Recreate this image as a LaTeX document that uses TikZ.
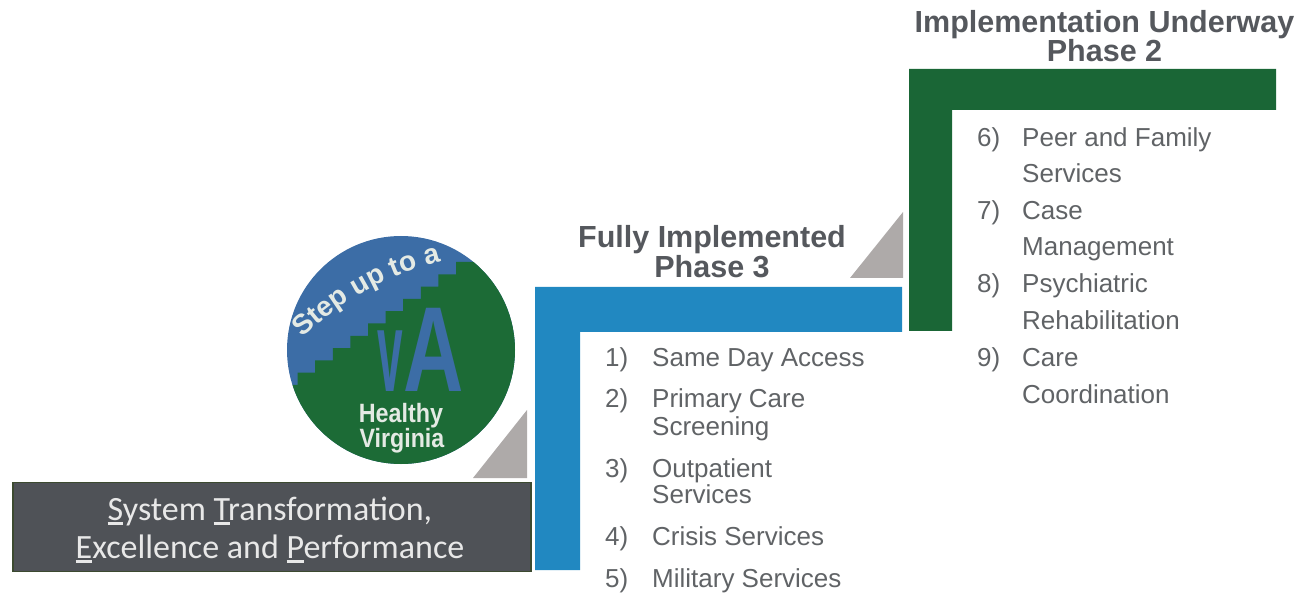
\documentclass[tikz,border=0pt]{standalone}
\usepackage{fontspec}
\setmainfont{Liberation Sans}
\newfontfamily\boxfont{Carlito}
\usetikzlibrary{decorations.text}
\definecolor{blueL}{HTML}{2188C1}
\definecolor{greenL}{HTML}{1A6636}
\definecolor{trigray}{HTML}{AEAAA9}
\definecolor{boxfill}{HTML}{4F5257}
\definecolor{boxborder}{HTML}{3C4A30}
\definecolor{boxtext}{HTML}{E8E8E8}
\definecolor{titlegray}{HTML}{55585D}
\definecolor{listgray}{HTML}{606366}
\definecolor{logoblue}{HTML}{3C6DA6}
\definecolor{logogreen}{HTML}{1C6B36}
\definecolor{logotext}{HTML}{E4EAE4}
\newcommand\ulet[1]{\setbox0\hbox{#1}\rlap{\rule[-4.5pt]{\wd0}{2.6pt}}#1}
\begin{document}
\begin{tikzpicture}[x=1pt,y=1pt,
  listtext/.style={anchor=base west, inner sep=0pt, text=listgray, font=\fontsize{26}{30}\selectfont},
  titletext/.style={anchor=base, inner sep=0pt, text=titlegray, font=\fontsize{30.5}{36}\selectfont\bfseries},
  boxline/.style={anchor=base, inner sep=0pt, text=boxtext, font=\boxfont\fontsize{34}{40}\selectfont},
  logoline/.style={anchor=base, inner sep=0pt, text=logotext, font=\fontsize{26.5}{30}\selectfont\bfseries}]
\useasboundingbox (0,0) rectangle (1304,595);

% L shapes
\fill[blueL] (535,308) -- (902,308) -- (902,263) -- (580,263) -- (580,25) -- (535,25) -- cycle;
\fill[greenL] (909,526) -- (1276,526) -- (1276,485) -- (952,485) -- (952,264) -- (909,264) -- cycle;

% triangles
\fill[trigray] (473,117) -- (527,117) -- (527,185) -- cycle;
\fill[trigray] (850,317) -- (903,317) -- (903,383) -- cycle;

% bottom box
\node[draw=boxborder, line width=1.5pt, fill=boxfill, minimum width=518, minimum height=89, inner sep=0pt, anchor=south west] (stebox) at (12,23) {};
\node[boxline] (stel1) at (270,75) {\ulet{S}ystem \ulet{T}ransformation,};
\node[boxline] (stel2) at (270,37) {\ulet{E}xcellence and \ulet{P}erformance};

% logo
\begin{scope}
\clip (401,245) circle (114);
\fill[logoblue] (280,120) rectangle (522,370);
\fill[logogreen] (280,210) \foreach \i in {1,...,10}{ -- ++(17.6,0) -- ++(0,12.3)} -- (530,333) -- (530,120) -- (280,120) -- cycle;
\end{scope}
\path[decorate, decoration={text along path, text={|\fontsize{28}{28}\selectfont\bfseries\color{logotext}|Step up to a}, text align=left}]
  (302.5,257) arc[start angle=134, end angle=92, radius=305];
\node[anchor=base west, inner sep=0pt, text=logoblue, font=\fontsize{121}{121}\selectfont\bfseries] (va) at (377,204)
  {\scalebox{0.38}[0.95]{v}\hspace{1pt}\scalebox{0.69}[1]{A}};
\node[logoline] (healthy) at (401,173) {\scalebox{0.88}[1]{Healthy}};
\node[logoline] (virginia) at (402,148) {\scalebox{0.875}[1]{Virginia}};

% titles
\node[titletext] (t3a) at (712,347) {Fully Implemented};
\node[titletext] (t3b) at (712,317) {Phase 3};
\node[titletext] (t2a) at (1104.5,562) {Implementation Underway};
\node[titletext] (t2b) at (1104.5,533) {Phase 2};

% list phase 3
\node[listtext] (n1) at (605,228) {1)};
\node[listtext] (i1) at (652,228) {Same Day Access};
\node[listtext] (n2) at (605,187) {2)};
\node[listtext] (i2a) at (652,187) {Primary Care};
\node[listtext] (i2b) at (652,160) {Screening};
\node[listtext] (n3) at (605,118) {3)};
\node[listtext] (i3a) at (652,118) {Outpatient};
\node[listtext] (i3b) at (652,92) {Services};
\node[listtext] (n4) at (605,50) {4)};
\node[listtext] (i4) at (652,50) {Crisis Services};
\node[listtext] (n5) at (605,8) {5)};
\node[listtext] (i5) at (652,8) {Military Services};

% list phase 2
\node[listtext] (n6) at (977,448) {6)};
\node[listtext] (i6a) at (1022,448) {Peer and Family};
\node[listtext] (i6b) at (1022,412) {Services};
\node[listtext] (n7) at (977,375) {7)};
\node[listtext] (i7a) at (1022,375) {Case};
\node[listtext] (i7b) at (1022,339) {Management};
\node[listtext] (n8) at (977,302) {8)};
\node[listtext] (i8a) at (1022,302) {Psychiatric};
\node[listtext] (i8b) at (1022,265) {Rehabilitation};
\node[listtext] (n9) at (977,228) {9)};
\node[listtext] (i9a) at (1022,228) {Care};
\node[listtext] (i9b) at (1022,192) {Coordination};
\end{tikzpicture}
\end{document}
